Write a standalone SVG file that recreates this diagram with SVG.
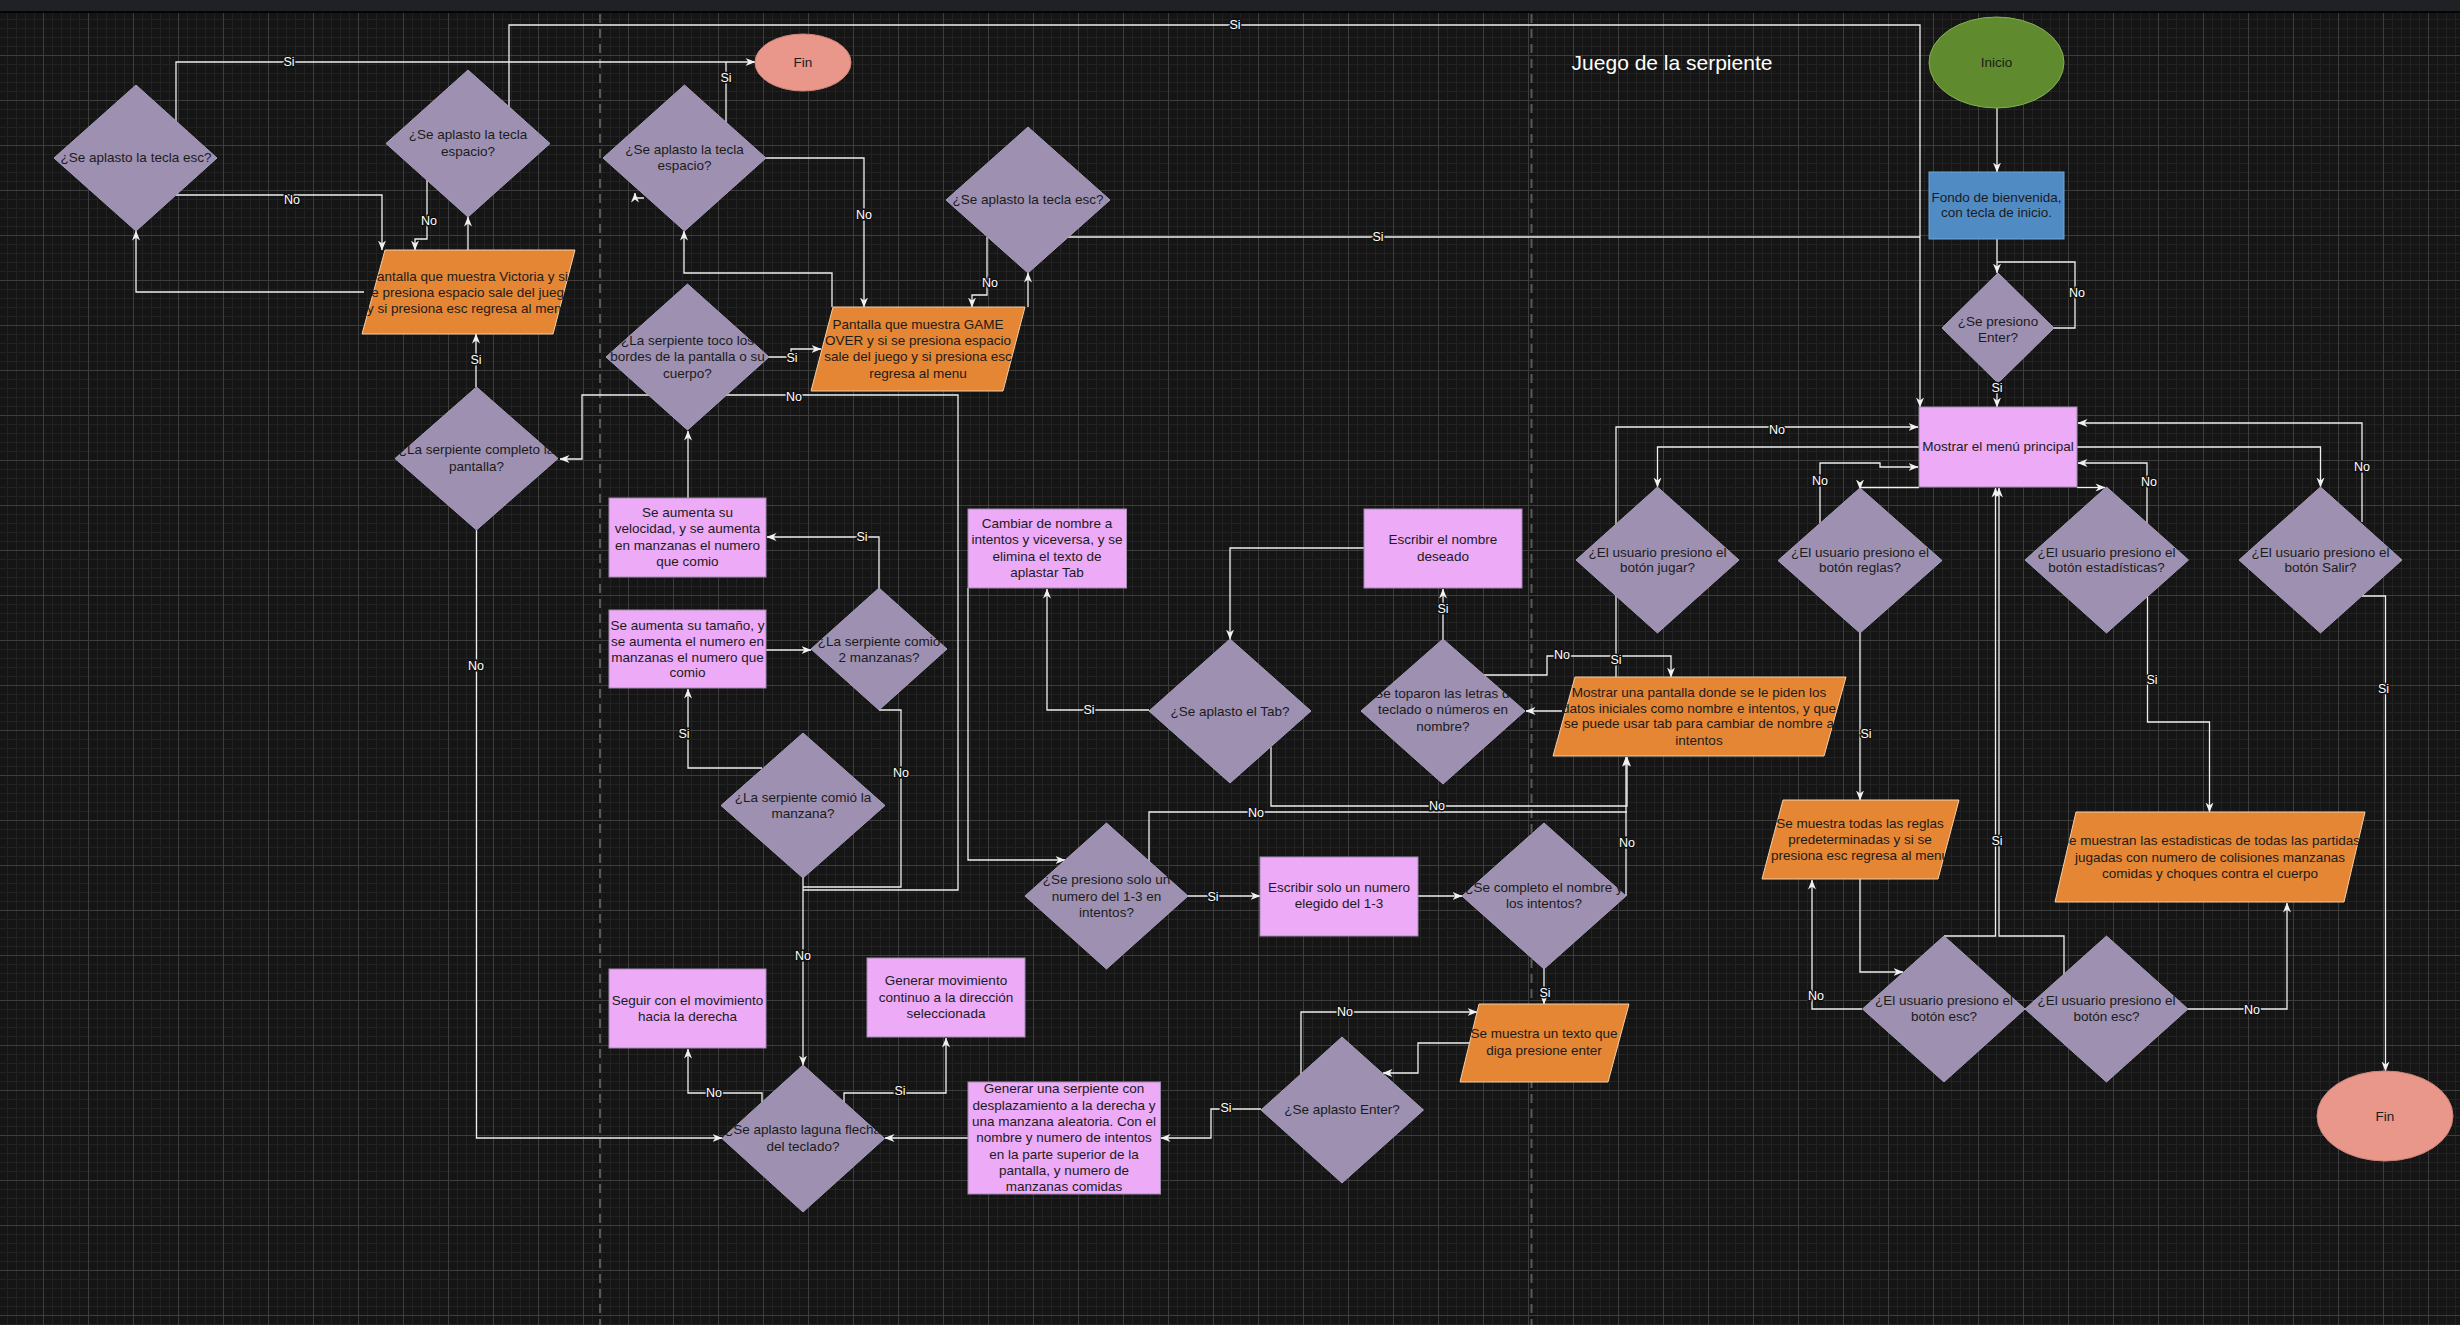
<svg xmlns="http://www.w3.org/2000/svg" width="2460" height="1325" viewBox="0 0 2460 1325">
  <defs>
    <pattern id="grid" x="43" y="10" width="45" height="45" patternUnits="userSpaceOnUse">
      <rect width="45" height="45" fill="#151515"/>
      <path d="M9.5 0V45M18.5 0V45M27.5 0V45M36.5 0V45M0 9.5H45M0 18.5H45M0 27.5H45M0 36.5H45" stroke="#222" stroke-width="1"/>
      <path d="M0.5 0V45M0 0.5H45" stroke="#3d3d3d" stroke-width="1"/>
    </pattern>
    <marker id="arrow" viewBox="0 0 10 10" refX="9.5" refY="5" markerWidth="10" markerHeight="10" markerUnits="userSpaceOnUse" orient="auto">
      <path d="M0,1 L10,5 L0,9 L3,5 Z" fill="#f2f2f2"/>
    </marker>
    <style>
      .e { fill: none; stroke: #f0f0f0; stroke-width: 1.3; }
      .a { marker-end: url(#arrow); }
      .dia { fill: #9d90b0; stroke: #aa9ebd; stroke-width: 1; }
      .box { fill: #ecaaf7; stroke: #a08cae; stroke-width: 1; }
      .io { fill: #e48634; stroke: #f3cfa8; stroke-width: 1; }
      .t { font-family: "Liberation Sans", Arial, sans-serif; font-size: 13.5px; fill: #1b1b1b; text-anchor: middle; dominant-baseline: central; }
      .lbl { font-family: "Liberation Sans", Arial, sans-serif; font-size: 12.5px; fill: #ffffff; stroke: #111; stroke-width: 3; paint-order: stroke; text-anchor: middle; dominant-baseline: central; }
      .lane { stroke: #585858; stroke-width: 2; stroke-dasharray: 9 6; }
    </style>
  </defs>

  <!-- canvas -->
  <rect width="2460" height="1325" fill="#151515"/>
  <rect x="0" y="13" width="2460" height="1312" fill="url(#grid)"/>
  <rect x="0" y="0" width="2460" height="11" fill="#202124"/>
  <rect x="0" y="11" width="2460" height="2" fill="#050505"/>
  <line class="lane" x1="600" y1="14" x2="600" y2="1325"/>
  <line class="lane" x1="1531.5" y1="14" x2="1531.5" y2="1325"/>

  <text x="1672" y="62" font-family="Liberation Sans, Arial, sans-serif" font-size="21" fill="#ffffff" text-anchor="middle" dominant-baseline="central">Juego de la serpiente</text>

  <g id="connectors">
    <path class="e a" d="M176 121 V62 H755"/>
    <path class="e" d="M726 122 V62"/>
    <path class="e a" d="M176 195 H382 V250"/>
    <path class="e a" d="M364 292 H136 V231"/>
    <path class="e a" d="M427 180 V239 H415 V250"/>
    <path class="e a" d="M468 250 V217"/>
    <path class="e a" d="M476 387 V334"/>
    <path class="e a" d="M509 107 V25 H1920 V407"/>
    <path class="e" d="M1068 237 H1920"/>
    <path class="e a" d="M766 158 H864 V307"/>
    <path class="e a" d="M832 307 V273 H684 V231"/>
    <path class="e a" d="M987 237 V295 H972 V307"/>
    <path class="e a" d="M1028 307 V273"/>
    <path class="e a" d="M644 198 H635 V193"/>
    <path class="e a" d="M769 357 H791 V349 H821"/>
    <path class="e a" d="M803 890 H958 V395 H582 V459 H560"/>
    <path class="e a" d="M803 878 V1065"/>
    <path class="e" d="M879 710 H901 V887 H803"/>
    <path class="e a" d="M879 588 V537 H767"/>
    <path class="e a" d="M766 650 H811"/>
    <path class="e a" d="M688 498 V431"/>
    <path class="e a" d="M762 768 H688 V689"/>
    <path class="e a" d="M476.5 530 V1138 H722"/>
    <path class="e a" d="M762 1102 V1093 H688 V1049"/>
    <path class="e a" d="M844 1102 V1093 H946 V1038"/>
    <path class="e a" d="M968 1138 H885"/>
    <path class="e a" d="M1261 1109 H1211 V1138 H1161"/>
    <path class="e a" d="M1188 896 H1260"/>
    <path class="e a" d="M1418 896 H1462"/>
    <path class="e a" d="M1626 896 V757"/>
    <path class="e a" d="M1544 969 V1004"/>
    <path class="e a" d="M1470 1043 H1418 V1073 H1383"/>
    <path class="e a" d="M1301 1074 V1012 H1477"/>
    <path class="e a" d="M1149 710 H1047 V589"/>
    <path class="e a" d="M968 588 V860 H1065"/>
    <path class="e a" d="M1364 548 H1230 V639"/>
    <path class="e a" d="M1443 639 V589"/>
    <path class="e a" d="M1484 675 H1547 V656 H1671 V677"/>
    <path class="e a" d="M1562 711 H1526"/>
    <path class="e a" d="M1271 747 V806 H1627 V757"/>
    <path class="e" d="M1149 861 V812 H1627"/>
    <path class="e a" d="M1919 447 H1657.5 V487"/>
    <path class="e a" d="M1616 677 V427 H1918"/>
    <path class="e a" d="M1820 523 V463 H1880 V467 H1918"/>
    <path class="e a" d="M1919 487.5 H1860 V489"/>
    <path class="e a" d="M2077 487.5 H2105"/>
    <path class="e a" d="M2147 523 V463 H2078"/>
    <path class="e a" d="M2077 447 H2320.5 V487"/>
    <path class="e a" d="M2362 522 V423 H2078"/>
    <path class="e a" d="M2362 596 H2385.5 V1071"/>
    <path class="e a" d="M2147.5 597 V722 H2209.5 V812"/>
    <path class="e a" d="M1860 633 V800"/>
    <path class="e a" d="M1860 879 V972 H1903"/>
    <path class="e a" d="M1862 1009 H1812 V880"/>
    <path class="e a" d="M2188 1009 H2287 V903"/>
    <path class="e a" d="M1944 936 H1995.5 V488"/>
    <path class="e a" d="M2064 974 V936 H1999 V488"/>
    <path class="e a" d="M1997 108 V172"/>
    <path class="e a" d="M1997 239 V273"/>
    <path class="e" d="M2054 328 H2075 V262 H1997"/>
    <path class="e a" d="M1997 383 V407"/>
  </g>

  <g id="n-d1"><polygon class="dia" points="136,85 217,158 136,231 54,158"/><text class="t" x="136" y="157">¿Se aplasto la tecla esc?</text></g>
  <g id="n-d2"><polygon class="dia" points="468,70 550,143.5 468,217 386,143.5"/><text class="t"><tspan x="468" y="134">¿Se aplasto la tecla</tspan><tspan x="468" y="151">espacio?</tspan></text></g>
  <g id="n-victoria"><polygon class="io" points="385,250 575,250 553,334 362,334"/><text class="t"><tspan x="468" y="276">Pantalla que muestra Victoria y si</tspan><tspan x="468" y="292">se presiona espacio sale del juego</tspan><tspan x="468" y="308">y si presiona esc regresa al menu</tspan></text></g>
  <g id="n-fin1"><ellipse cx="803" cy="62.5" rx="48" ry="28.5" fill="#e8978a" stroke="#d0837a"/><text class="t" x="803" y="62">Fin</text></g>
  <g id="n-d4"><polygon class="dia" points="684.5,85 766,158 684.5,231 603,158"/><text class="t"><tspan x="684.5" y="149">¿Se aplasto la tecla</tspan><tspan x="684.5" y="165">espacio?</tspan></text></g>
  <g id="n-d6"><polygon class="dia" points="1028,127 1110,200 1028,273 946,200"/><text class="t" x="1028" y="199">¿Se aplasto la tecla esc?</text></g>
  <g id="n-gameover"><polygon class="io" points="833,307 1025,307 1003,391 811,391"/><text class="t"><tspan x="918" y="324">Pantalla que muestra GAME</tspan><tspan x="918" y="340">OVER y si se presiona espacio</tspan><tspan x="918" y="356">sale del juego y si presiona esc</tspan><tspan x="918" y="373">regresa al menu</tspan></text></g>
  <g id="n-d5"><polygon class="dia" points="687.5,284 769,357 687.5,430 606,357"/><text class="t"><tspan x="687.5" y="340">¿La serpiente toco los</tspan><tspan x="687.5" y="356">bordes de la pantalla o su</tspan><tspan x="687.5" y="373">cuerpo?</tspan></text></g>
  <g id="n-d3"><polygon class="dia" points="476.5,387 558,458.5 476.5,530 395,458.5"/><text class="t"><tspan x="476.5" y="449">¿La serpiente completo la</tspan><tspan x="476.5" y="466">pantalla?</tspan></text></g>
  <g id="n-velocidad"><rect class="box" x="609" y="498" width="157" height="79"/><text class="t"><tspan x="687.5" y="512">Se aumenta su</tspan><tspan x="687.5" y="528">velocidad, y se aumenta</tspan><tspan x="687.5" y="545">en manzanas el numero</tspan><tspan x="687.5" y="561">que comio</tspan></text></g>
  <g id="n-tamano"><rect class="box" x="609" y="610" width="157" height="78"/><text class="t"><tspan x="687.5" y="625">Se aumenta su tamaño, y</tspan><tspan x="687.5" y="641">se aumenta el numero en</tspan><tspan x="687.5" y="657">manzanas el numero que</tspan><tspan x="687.5" y="672">comio</tspan></text></g>
  <g id="n-d2manz"><polygon class="dia" points="879,588 947,649 879,710 811,649"/><text class="t"><tspan x="879" y="641">¿La serpiente comio</tspan><tspan x="879" y="657">2 manzanas?</tspan></text></g>
  <g id="n-dcomio"><polygon class="dia" points="803,733 885,805.5 803,878 721,805.5"/><text class="t"><tspan x="803" y="797">¿La serpiente comió la</tspan><tspan x="803" y="813">manzana?</tspan></text></g>
  <g id="n-seguir"><rect class="box" x="609" y="969" width="157" height="79"/><text class="t"><tspan x="687.5" y="1000">Seguir con el movimiento</tspan><tspan x="687.5" y="1016">hacia la derecha</tspan></text></g>
  <g id="n-genmov"><rect class="box" x="867" y="958" width="158" height="79"/><text class="t"><tspan x="946" y="980">Generar movimiento</tspan><tspan x="946" y="997">continuo a la dirección</tspan><tspan x="946" y="1013">seleccionada</tspan></text></g>
  <g id="n-dflecha"><polygon class="dia" points="803,1065 884.5,1138.5 803,1212 722,1138.5"/><text class="t"><tspan x="803" y="1129">¿Se aplasto laguna flecha</tspan><tspan x="803" y="1146">del teclado?</tspan></text></g>
  <g id="n-genserp"><rect class="box" x="968" y="1082" width="192.5" height="112"/><text class="t"><tspan x="1064" y="1088">Generar una serpiente con</tspan><tspan x="1064" y="1104.5">desplazamiento a la derecha y</tspan><tspan x="1064" y="1121">una manzana aleatoria. Con el</tspan><tspan x="1064" y="1137">nombre y numero de intentos</tspan><tspan x="1064" y="1153.5">en la parte superior de la</tspan><tspan x="1064" y="1169.5">pantalla, y numero de</tspan><tspan x="1064" y="1186">manzanas comidas</tspan></text></g>
  <g id="n-cambiar"><rect class="box" x="968" y="509" width="158.5" height="79"/><text class="t"><tspan x="1047" y="523">Cambiar de nombre a</tspan><tspan x="1047" y="539">intentos y viceversa, y se</tspan><tspan x="1047" y="556">elimina el texto de</tspan><tspan x="1047" y="572">aplastar Tab</tspan></text></g>
  <g id="n-dtab"><polygon class="dia" points="1230,639 1311,711 1230,783 1149,711"/><text class="t" x="1230" y="711">¿Se aplasto el Tab?</text></g>
  <g id="n-d123"><polygon class="dia" points="1106.5,823 1188,896 1106.5,969 1025,896"/><text class="t"><tspan x="1106.5" y="879">¿Se presiono solo un</tspan><tspan x="1106.5" y="896">numero del 1-3 en</tspan><tspan x="1106.5" y="912">intentos?</tspan></text></g>
  <g id="n-escnum"><rect class="box" x="1260" y="857" width="158" height="79"/><text class="t"><tspan x="1339" y="887">Escribir solo un numero</tspan><tspan x="1339" y="903">elegido del 1-3</tspan></text></g>
  <g id="n-dcompleto"><polygon class="dia" points="1544,823 1626,896 1544,969 1462,896"/><text class="t"><tspan x="1544" y="887">¿Se completo el nombre y</tspan><tspan x="1544" y="903">los intentos?</tspan></text></g>
  <g id="n-penter"><polygon class="io" points="1479,1004 1629,1004 1608,1082 1460,1082"/><text class="t"><tspan x="1544" y="1033">Se muestra un texto que</tspan><tspan x="1544" y="1050">diga presione enter</tspan></text></g>
  <g id="n-denter2"><polygon class="dia" points="1342,1037 1423.5,1110 1342,1183 1261,1110"/><text class="t" x="1342" y="1109">¿Se aplasto Enter?</text></g>
  <g id="n-escnombre"><rect class="box" x="1364" y="509" width="158" height="79"/><text class="t"><tspan x="1443" y="539">Escribir el nombre</tspan><tspan x="1443" y="556">deseado</tspan></text></g>
  <g id="n-dtoparon"><polygon class="dia" points="1443,639 1525,711 1443,784 1361,711"/><text class="t"><tspan x="1443" y="693">¿Se toparon las letras del</tspan><tspan x="1443" y="709">teclado o números en</tspan><tspan x="1443" y="726">nombre?</tspan></text></g>
  <g id="n-datos"><polygon class="io" points="1575,677 1846,677 1824,756 1553,756"/><text class="t"><tspan x="1699" y="692">Mostrar una pantalla donde se le piden los</tspan><tspan x="1699" y="708">datos iniciales como nombre e intentos, y que</tspan><tspan x="1699" y="723">se puede usar tab para cambiar de nombre a</tspan><tspan x="1699" y="740">intentos</tspan></text></g>
  <g id="n-djugar"><polygon class="dia" points="1657.5,487 1739,560 1657.5,633 1576,560"/><text class="t"><tspan x="1657.5" y="552">¿El usuario presiono el</tspan><tspan x="1657.5" y="567">botón jugar?</tspan></text></g>
  <g id="n-dreglas"><polygon class="dia" points="1860,488 1942,560.5 1860,633 1778,560.5"/><text class="t"><tspan x="1860" y="552">¿El usuario presiono el</tspan><tspan x="1860" y="567">botón reglas?</tspan></text></g>
  <g id="n-destad"><polygon class="dia" points="2106.5,487 2188.5,560 2106.5,633 2025,560"/><text class="t"><tspan x="2106.5" y="552">¿El usuario presiono el</tspan><tspan x="2106.5" y="567">botón estadísticas?</tspan></text></g>
  <g id="n-dsalir"><polygon class="dia" points="2320.5,487 2402,560 2320.5,633 2239,560"/><text class="t"><tspan x="2320.5" y="552">¿El usuario presiono el</tspan><tspan x="2320.5" y="567">botón Salir?</tspan></text></g>
  <g id="n-menu"><rect class="box" x="1919" y="407" width="158" height="80"/><text class="t" x="1998" y="446">Mostrar el menú principal</text></g>
  <g id="n-reglas"><polygon class="io" points="1783,800 1959,800 1938,879 1762,879"/><text class="t"><tspan x="1860" y="823">Se muestra todas las reglas</tspan><tspan x="1860" y="839">predeterminadas y si se</tspan><tspan x="1860" y="855">presiona esc regresa al menu</tspan></text></g>
  <g id="n-estad"><polygon class="io" points="2076,812 2365,812 2344,902 2055,902"/><text class="t"><tspan x="2210" y="840">Se muestran las estadisticas de todas las partidas</tspan><tspan x="2210" y="857">jugadas con numero de colisiones manzanas</tspan><tspan x="2210" y="873">comidas y choques contra el cuerpo</tspan></text></g>
  <g id="n-desc1"><polygon class="dia" points="1944,936 2025,1009 1944,1082 1862.5,1009"/><text class="t"><tspan x="1944" y="1000">¿El usuario presiono el</tspan><tspan x="1944" y="1016">botón esc?</tspan></text></g>
  <g id="n-desc2"><polygon class="dia" points="2106.5,936 2188,1009 2106.5,1082 2025,1009"/><text class="t"><tspan x="2106.5" y="1000">¿El usuario presiono el</tspan><tspan x="2106.5" y="1016">botón esc?</tspan></text></g>
  <g id="n-fin2"><ellipse cx="2385" cy="1116" rx="68" ry="45" fill="#e8978a" stroke="#d0837a"/><text class="t" x="2385" y="1116">Fin</text></g>
  <g id="n-inicio"><ellipse cx="1996.5" cy="62.5" rx="67.5" ry="45.5" fill="#5f8a2d" stroke="#86b052"/><text class="t" x="1996.5" y="62">Inicio</text></g>
  <g id="n-fondo"><rect x="1929" y="172" width="135" height="67" fill="#518bc4" stroke="#6fa6da"/><text class="t"><tspan x="1996.5" y="197">Fondo de bienvenida,</tspan><tspan x="1996.5" y="212">con tecla de inicio.</tspan></text></g>
  <g id="n-denter"><polygon class="dia" points="1998,273 2054,328 1998,383 1942,328"/><text class="t"><tspan x="1998" y="321">¿Se presiono</tspan><tspan x="1998" y="337">Enter?</tspan></text></g>

  <g id="edge-labels">
    <text class="lbl" x="289" y="62">Si</text>
    <text class="lbl" x="726" y="78">Si</text>
    <text class="lbl" x="292" y="200">No</text>
    <text class="lbl" x="429" y="221">No</text>
    <text class="lbl" x="476" y="360">Si</text>
    <text class="lbl" x="1235" y="25">Si</text>
    <text class="lbl" x="1378" y="237">Si</text>
    <text class="lbl" x="864" y="215">No</text>
    <text class="lbl" x="990" y="283">No</text>
    <text class="lbl" x="792" y="358">Si</text>
    <text class="lbl" x="794" y="397">No</text>
    <text class="lbl" x="803" y="956">No</text>
    <text class="lbl" x="901" y="773">No</text>
    <text class="lbl" x="862" y="537">Si</text>
    <text class="lbl" x="684" y="734">Si</text>
    <text class="lbl" x="476" y="666">No</text>
    <text class="lbl" x="714" y="1093">No</text>
    <text class="lbl" x="900" y="1091">Si</text>
    <text class="lbl" x="1226" y="1108">Si</text>
    <text class="lbl" x="1213" y="897">Si</text>
    <text class="lbl" x="1627" y="843">No</text>
    <text class="lbl" x="1545" y="993">Si</text>
    <text class="lbl" x="1345" y="1012">No</text>
    <text class="lbl" x="1089" y="710">Si</text>
    <text class="lbl" x="1443" y="609">Si</text>
    <text class="lbl" x="1562" y="655">No</text>
    <text class="lbl" x="1437" y="806">No</text>
    <text class="lbl" x="1256" y="813">No</text>
    <text class="lbl" x="1616" y="660">Si</text>
    <text class="lbl" x="1777" y="430">No</text>
    <text class="lbl" x="1820" y="481">No</text>
    <text class="lbl" x="2149" y="482">No</text>
    <text class="lbl" x="2362" y="467">No</text>
    <text class="lbl" x="2383.5" y="689">Si</text>
    <text class="lbl" x="2152" y="680">Si</text>
    <text class="lbl" x="1866" y="734">Si</text>
    <text class="lbl" x="1816" y="996">No</text>
    <text class="lbl" x="2252" y="1010">No</text>
    <text class="lbl" x="1997" y="841">Si</text>
    <text class="lbl" x="2077" y="293">No</text>
    <text class="lbl" x="1997" y="388">Si</text>
  </g>
</svg>
